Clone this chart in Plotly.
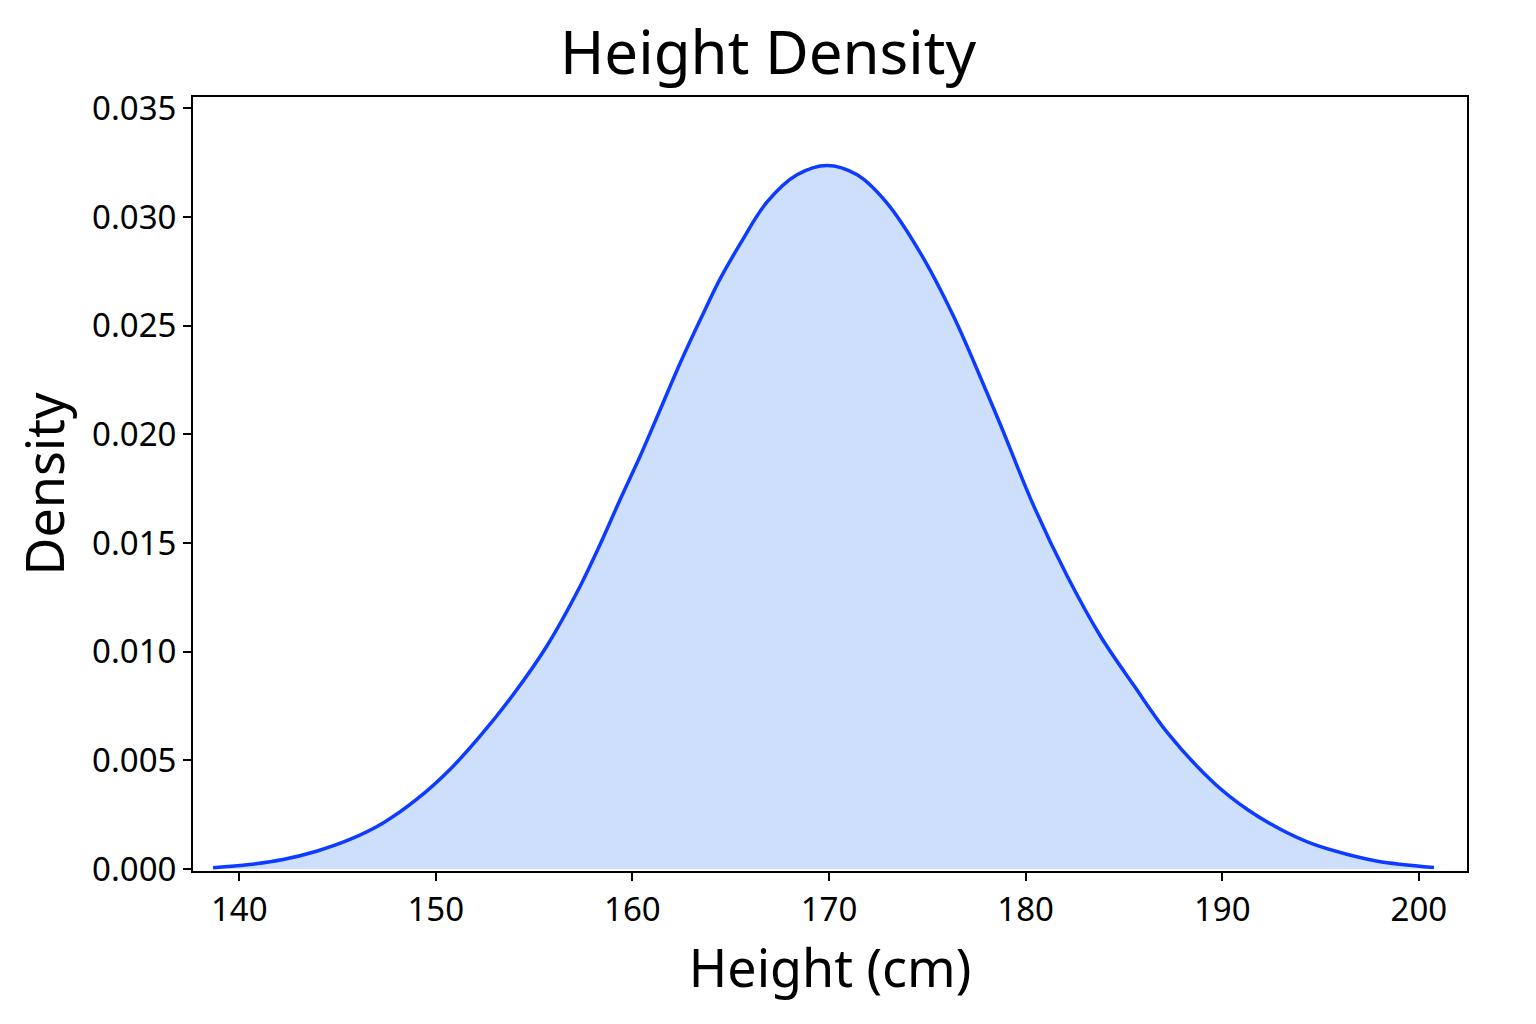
import plotly.graph_objects as go

# values
height_cm = [138.67, 140.53, 142.23, 143.93, 145.63, 147.32, 149.02, 150.72,
             152.25, 153.94, 155.64, 157.34, 158.35, 159.37, 160.39, 161.41,
             162.43, 163.45, 164.46, 165.48, 166.84, 168.37, 169.90, 171.43,
             172.95, 174.65, 176.34, 178.04, 178.72, 180.42, 182.12, 183.81,
             185.51, 187.21, 189.58, 191.28, 192.98, 194.67, 196.38,
             197.90, 200.77]
density = [0.00006, 0.00021, 0.00044, 0.00082, 0.00136, 0.00212, 0.0032, 0.00458,
           0.00611, 0.00803, 0.01025, 0.01301, 0.01492, 0.01699, 0.01899, 0.02113,
           0.02328, 0.02527, 0.02715, 0.02876, 0.03068, 0.03194, 0.03237, 0.03194,
           0.03064, 0.02834, 0.02542, 0.0219, 0.02044, 0.01669, 0.01347, 0.01071,
           0.00844, 0.00628, 0.00396, 0.00274, 0.00182, 0.00113, 0.00067,
           0.00036, 0.00007]

x_ticks = [140, 150, 160, 170, 180, 190, 200]
y_ticks = [0.000, 0.005, 0.010, 0.015, 0.020, 0.025, 0.030, 0.035]

fig = go.Figure()
fig.add_trace(go.Scatter(
    x=height_cm, y=density, mode="lines",
    line=dict(color="#0d3bff", width=3.5, shape="spline", smoothing=1.0),
    fill="tozeroy", fillcolor="#cddffa",
    showlegend=False,
))

axis_style = dict(
    showline=True, linecolor="black", linewidth=2, mirror=True,
    ticks="outside", ticklen=8, tickwidth=2, tickcolor="black",
    showgrid=False, zeroline=False,
    tickfont=dict(family="Noto Sans", size=33, color="black"),
)

fig.update_xaxes(
    range=[137.65, 202.45], tickvals=x_ticks,
    title=dict(text="Height (cm)", font=dict(family="Noto Sans", size=52, color="black"), standoff=12),
    **axis_style,
)
fig.update_yaxes(
    range=[-0.00009, 0.03552], tickvals=y_ticks, tickformat=".3f",
    title=dict(text="Density", font=dict(family="Noto Sans", size=52, color="black"), standoff=18),
    **axis_style,
)

# page body adds 8px, so the figure is a bit smaller than the window
fig.update_layout(
    width=1520, height=1008,
    margin=dict(l=185, r=61, t=89, b=145),
    paper_bgcolor="white", plot_bgcolor="white",
    title=dict(text="Height Density", x=0.5, xanchor="center", y=0.955, yanchor="middle",
               font=dict(family="Noto Sans", size=60, color="black")),
)

fig.write_html("out.html")
